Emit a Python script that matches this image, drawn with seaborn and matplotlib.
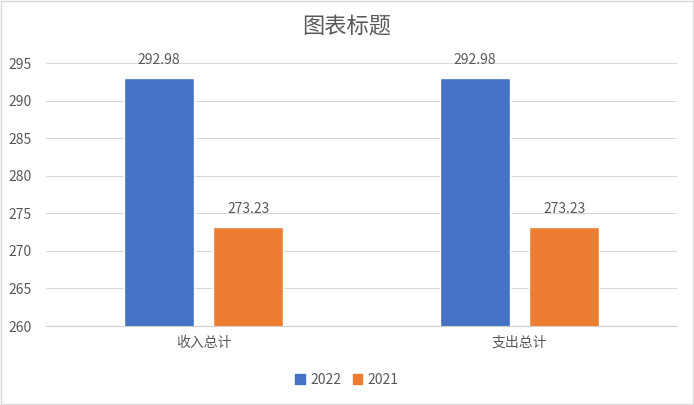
import pandas as pd
import matplotlib.pyplot as plt
import seaborn as sns
from matplotlib.patches import Rectangle

# Chart values
categories = ['收入总计', '支出总计']
years = ['2022', '2021']
values_2022 = [292.98, 292.98]
values_2021 = [273.23, 273.23]

df = pd.DataFrame({
    'category': categories * 2,
    'year': [years[0]] * 2 + [years[1]] * 2,
    'value': values_2022 + values_2021,
})

sns.set_style('white')
plt.rcParams['font.family'] = ['Noto Sans CJK SC', 'DejaVu Sans']
text_color = '#595959'
palette = {'2022': '#4472C4', '2021': '#ED7D31'}

fig = plt.figure(figsize=(6.94, 4.05), dpi=100)
ax = fig.add_axes([0.066, 0.195, 0.910, 0.649])

sns.barplot(data=df, x='category', y='value', hue='year', palette=palette,
            width=0.566, gap=0.217, saturation=1, ax=ax, legend=False)

ax.set_ylim(260, 295)
ax.set_xlim(-0.5, 1.5)
ax.set_yticks(range(260, 296, 5))
ax.yaxis.grid(True, color='#D9D9D9', linewidth=0.8)
ax.set_axisbelow(True)
for side in ['top', 'right', 'left']:
    ax.spines[side].set_visible(False)
ax.spines['bottom'].set_color('#D0D0D0')
ax.tick_params(axis='both', length=0, colors=text_color, labelsize=10)
ax.tick_params(axis='y', pad=10)
ax.tick_params(axis='x', pad=7)
ax.set_xlabel('')
ax.set_ylabel('')

# value labels
for container in ax.containers:
    for bar in container:
        h = bar.get_height()
        ax.annotate(f'{h:.2f}', (bar.get_x() + bar.get_width() / 2, h),
                    xytext=(0, 13), textcoords='offset points',
                    ha='center', va='center', fontsize=10, color=text_color)

fig.suptitle('图表标题', y=0.965, fontsize=16, color=text_color)

handles = [Rectangle((0, 0), 1, 1, color=palette[y]) for y in years]
fig.legend(handles, years, loc='center', bbox_to_anchor=(0.5, 0.062), ncol=2,
           frameon=False, fontsize=10, labelcolor=text_color,
           handlelength=0.7, handleheight=0.7, handletextpad=0.4, columnspacing=0.8)

# outer border
fig.patches.append(Rectangle((0.001, 0.002), 0.997, 0.995, transform=fig.transFigure,
                             fill=False, edgecolor='#D9D9D9', linewidth=1))

fig.savefig('out.png', dpi=100)
